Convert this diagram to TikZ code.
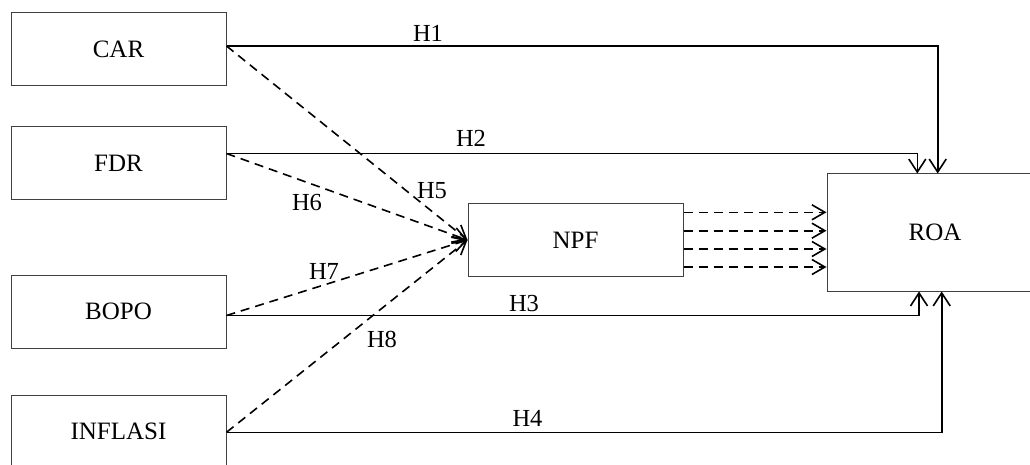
\documentclass[tikz,border=0pt]{standalone}
\usepackage{fontspec}
\setmainfont{Liberation Serif}
\usetikzlibrary{arrows.meta}
\begin{document}
\begin{tikzpicture}[x=1pt,y=-1pt,
  box/.style={draw=black!75,line width=1pt,fill=white,inner sep=0pt,
    minimum width=215pt,minimum height=73pt,font=\fontsize{25}{30}\selectfont},
  lbl/.style={inner sep=0pt,font=\fontsize{24.5}{30}\selectfont},
  conn/.style={line width=1.6pt,-{Straight Barb[length=13pt,width=17pt,line width=1.6pt]}},
  dconn/.style={line width=1.6pt,dash pattern=on 9pt off 6pt,-{Straight Barb[length=13pt,width=15pt,line width=1.6pt]}}]
\useasboundingbox (0,0) rectangle (1030,465);
\fill[white] (0,0) rectangle (1030,465);
% nodes
\node[box] (car) at (118.5,49) {CAR};
\node[box] (fdr) at (118.5,163.5) {FDR};
\node[box] (bopo) at (118.5,311.5) {BOPO};
\node[box] (infl) at (118.5,431.5) {INFLASI};
\node[box] (npf) at (575.5,240) {NPF};
\node[box,minimum width=216pt,minimum height=117pt] (roa) at (935,232.5) {ROA};
% start points
\coordinate (c1) at ([yshift=3pt]car.east);
\coordinate (c2) at ([yshift=10pt]fdr.east);
\coordinate (c3) at ([yshift=-4pt]bopo.east);
\coordinate (c4) at ([yshift=-0.8pt]infl.east);
% solid direct paths
\draw[conn] (c1) -| ([xshift=2.7pt]roa.north);
\draw[conn] (c2) -| ([xshift=-17.7pt]roa.north);
\draw[conn] (c3) -| ([xshift=-16pt]roa.south);
\draw[conn] (c4) -| ([xshift=6.7pt]roa.south);
% dashed to NPF
\draw[dconn] (c1) -- (npf.west);
\draw[dconn] (c2) -- (npf.west);
\draw[dconn] (c3) -- (npf.west);
\draw[dconn] (c4) -- (npf.west);
% dashed NPF to ROA
\coordinate (n1) at ([yshift=27.7pt]npf.east);
\coordinate (n2) at ([yshift=9.3pt]npf.east);
\coordinate (n3) at ([yshift=-9pt]npf.east);
\coordinate (n4) at ([yshift=-27pt]npf.east);
\draw[dconn] (n1) -- (n1 -| roa.west);
\draw[dconn] (n2) -- (n2 -| roa.west);
\draw[dconn] (n3) -- (n3 -| roa.west);
\draw[dconn] (n4) -- (n4 -| roa.west);
% labels
\node[lbl] (h1) at (428,33.5) {H1};
\node[lbl] (h2) at (471,138.5) {H2};
\node[lbl] (h3) at (524,304) {H3};
\node[lbl] (h4) at (527.5,418.5) {H4};
\node[lbl] (h5) at (432,191) {H5};
\node[lbl] (h6) at (307,203) {H6};
\node[lbl] (h7) at (324,271) {H7};
\node[lbl] (h8) at (382,339) {H8};
\end{tikzpicture}
\end{document}
